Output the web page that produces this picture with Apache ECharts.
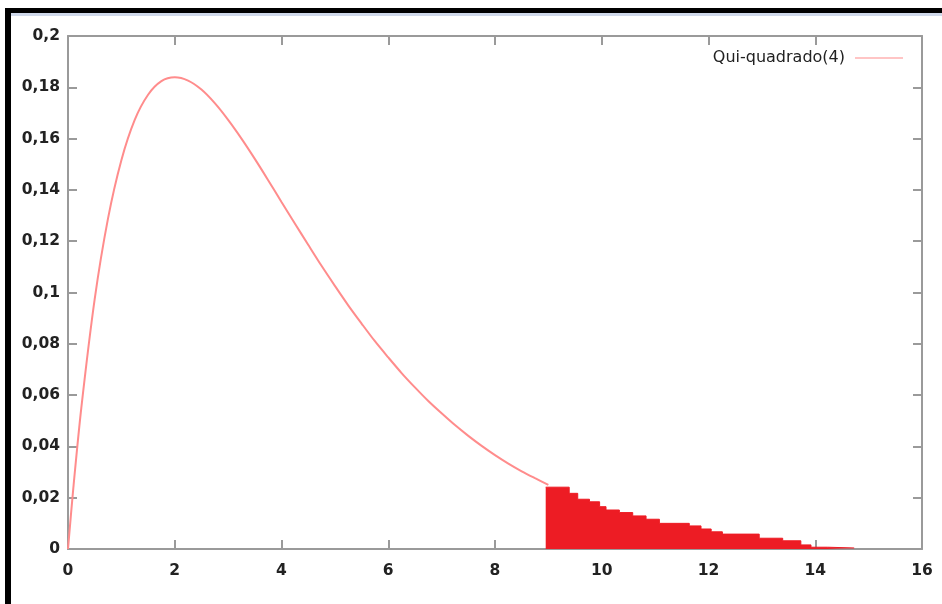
<!DOCTYPE html>
<html>
<head>
<meta charset="utf-8">
<script src="https://cdn.jsdelivr.net/npm/echarts@6/dist/echarts.min.js"></script>
<style>
  html, body { margin: 0; padding: 0; background: #fff; }
  #chart { width: 942px; height: 604px; }
</style>
</head>
<body>
<div id="chart"></div>
<script>
// curve
var curveX = [0, 0.1, 0.25, 0.5, 0.75, 1, 1.25, 1.5, 1.75, 2, 2.25, 2.5, 2.75, 3, 3.25, 3.5, 3.75, 4, 4.25, 4.5, 4.75, 5,
  5.25, 5.5, 5.75, 6, 6.25, 6.5, 6.75, 7, 7.25, 7.5, 7.75, 8, 8.25, 8.5, 8.75, 9];
var curveY = [0, 0.0238, 0.0551, 0.0974, 0.1289, 0.1516, 0.1673, 0.1771, 0.1824, 0.1839, 0.1826, 0.1791, 0.1738, 0.1673,
  0.1600, 0.1521, 0.1438, 0.1353, 0.1269, 0.1186, 0.1104, 0.1026, 0.0950, 0.0879, 0.0810, 0.0747, 0.0686, 0.0630,
  0.0577, 0.0529, 0.0483, 0.0441, 0.0402, 0.0366, 0.0333, 0.0303, 0.0276, 0.0250];

// hand-painted tail region (steps)
var tailX = [8.95, 9.39, 9.55, 9.77, 9.96, 10.08, 10.33, 10.58, 10.83, 11.08, 11.64, 11.86, 12.05, 12.26, 12.95, 13.39, 13.73, 13.92, 14.23, 14.73];
var tailY = [0.0241, 0.0217, 0.0194, 0.0184, 0.0165, 0.0152, 0.0142, 0.0129, 0.0116, 0.0100, 0.0090, 0.0078, 0.0067, 0.0058, 0.0042, 0.0032, 0.0016, 0.0007, 0.0004, 0.0004];

var legendName = 'Qui-quadrado(4)';

function zip(a, b) {
  var out = [];
  for (var i = 0; i < a.length; i++) out.push([a[i], b[i]]);
  return out;
}

var axisGrey = '#9a9a9a';
var labelStyle = {
  color: '#222',
  fontFamily: "'DejaVu Sans', sans-serif",
  fontSize: 15.5,
  fontWeight: 'bold'
};

function xAx(pos, showLabel) {
  return {
    type: 'value', position: pos, min: 0, max: 16, interval: 2,
    axisLine: { show: true, onZero: false, lineStyle: { color: axisGrey, width: 2 } },
    axisTick: { show: true, inside: true, length: 9, lineStyle: { color: axisGrey, width: 2 } },
    axisLabel: Object.assign({ show: showLabel, margin: 14 }, labelStyle),
    splitLine: { show: false }
  };
}
function yAx(pos, showLabel) {
  return {
    type: 'value', position: pos, min: 0, max: 0.2, interval: 0.02,
    axisLine: { show: true, onZero: false, lineStyle: { color: axisGrey, width: 2 } },
    axisTick: { show: true, inside: true, length: 9, lineStyle: { color: axisGrey, width: 2 } },
    axisLabel: Object.assign({
      show: showLabel, margin: 8,
      formatter: function (v) { return String(+v.toFixed(2)).replace('.', ','); }
    }, labelStyle),
    splitLine: { show: false }
  };
}

var chart = echarts.init(document.getElementById('chart'));
var option = {
  animation: false,
  backgroundColor: '#fff',
  grid: { left: 68, right: 20, top: 36, bottom: 55 },
  graphic: [
    { type: 'rect', shape: { x: 5, y: 8, width: 937, height: 5 }, style: { fill: '#000' } },
    { type: 'rect', shape: { x: 11, y: 13, width: 931, height: 3 }, style: { fill: '#cfd8ea' } },
    { type: 'rect', shape: { x: 5, y: 8, width: 6, height: 596 }, style: { fill: '#000' } }
  ],
  legend: {
    data: [legendName],
    right: 34, top: 45,
    align: 'right',
    itemWidth: 48, itemHeight: 10,
    icon: 'path://M0,4.5L48,4.5L48,5.5L0,5.5Z',
    textStyle: { color: '#222', fontFamily: "'DejaVu Sans', sans-serif", fontSize: 16, padding: [0, 5, 0, 0] }
  },
  xAxis: [xAx('bottom', true), xAx('top', false)],
  yAxis: [yAx('left', true), yAx('right', false)],
  series: [
    {
      name: legendName,
      type: 'line',
      smooth: 0.3,
      showSymbol: false,
      data: zip(curveX, curveY),
      itemStyle: { color: '#ff8c8c' },
      lineStyle: { color: '#ff8c8c', width: 2 }
    },
    {
      name: 'area',
      type: 'line',
      step: 'end',
      showSymbol: false,
      data: zip(tailX, tailY),
      lineStyle: { color: '#ed1c24', width: 1 },
      areaStyle: { color: '#ed1c24', opacity: 1 }
    }
  ]
};
chart.setOption(option);
</script>
</body>
</html>
